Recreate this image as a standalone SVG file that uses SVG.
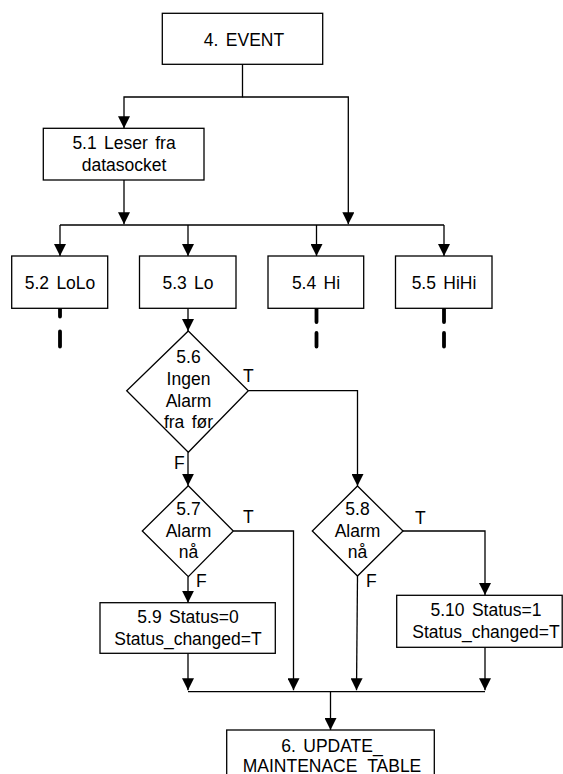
<svg xmlns="http://www.w3.org/2000/svg" width="563" height="774" viewBox="0 0 563 774">
  <style>
    .box { fill: #ffffff; stroke: #000000; stroke-width: 1.3; }
    .lbl { font-family: "Liberation Sans", Arial, sans-serif; font-size: 17.5px; fill: #000000; text-anchor: middle; word-spacing: 2.5px; }
    .tag { font-family: "Liberation Sans", Arial, sans-serif; font-size: 17.5px; fill: #000000; }
    .wire { fill: none; stroke: #000000; stroke-width: 1.3; }
    .stub { fill: none; stroke: #000000; stroke-width: 3.8; stroke-linecap: round; }
  </style>
  <defs>
    <marker id="arrow" viewBox="0 0 12 12" refX="12" refY="6" markerWidth="12" markerHeight="12" markerUnits="userSpaceOnUse" orient="auto">
      <path d="M0,0 L12,6 L0,12 z" fill="#000000"/>
    </marker>
  </defs>
  <rect width="563" height="774" fill="#ffffff"/>

  <!-- connectors -->
  <g id="connectors">
    <path class="wire" d="M242.5,64 V97 H124 V128.3" marker-end="url(#arrow)"/>
    <path class="wire" d="M242.5,97 H348.3 V224.3" marker-end="url(#arrow)"/>
    <path class="wire" d="M124,180 V224.3" marker-end="url(#arrow)"/>
    <path class="wire" d="M60,225 H444"/>
    <path class="wire" d="M60,225 V256" marker-end="url(#arrow)"/>
    <path class="wire" d="M188,225 V256" marker-end="url(#arrow)"/>
    <path class="wire" d="M316.5,225 V256" marker-end="url(#arrow)"/>
    <path class="wire" d="M444,225 V256" marker-end="url(#arrow)"/>
    <path class="wire" d="M188,308.3 V331" marker-end="url(#arrow)"/>
    <path class="wire" d="M188,452.3 V485.7" marker-end="url(#arrow)"/>
    <path class="wire" d="M248.3,390.7 H357.5 V486" marker-end="url(#arrow)"/>
    <path class="wire" d="M233.3,531 H293.5 V690.3" marker-end="url(#arrow)"/>
    <path class="wire" d="M188,576.7 V602.7" marker-end="url(#arrow)"/>
    <path class="wire" d="M403,531 H485 V595" marker-end="url(#arrow)"/>
    <path class="wire" d="M357.5,576 L356.5,690.3" marker-end="url(#arrow)"/>
    <path class="wire" d="M188,653.3 V690.3" marker-end="url(#arrow)"/>
    <path class="wire" d="M485,647.3 V690.3" marker-end="url(#arrow)"/>
    <path class="wire" d="M188,691.7 H485"/>
    <path class="wire" d="M330.5,691.7 V730" marker-end="url(#arrow)"/>
    <!-- broken continuations under the other alarm levels -->
    <path class="stub" d="M60,308.5 V316.5 M60,331.5 V346.5"/>
    <path class="stub" d="M316.5,308.5 V322 M316.5,333 V346.5"/>
    <path class="stub" d="M444,308.5 V322 M444,333 V346.5"/>
    <!-- branch tags -->
    <text class="tag" x="243" y="381.5">T</text>
    <text class="tag" x="174" y="468.5">F</text>
    <text class="tag" x="243" y="523">T</text>
    <text class="tag" x="196" y="587">F</text>
    <text class="tag" x="415" y="523.5">T</text>
    <text class="tag" x="366" y="587">F</text>
  </g>

  <g id="n4-event">
    <rect class="box" x="162.3" y="13.3" width="160.4" height="51"/>
    <text class="lbl" x="244" y="45.7">4. EVENT</text>
  </g>

  <g id="n5-1">
    <rect class="box" x="43.3" y="128.3" width="160.7" height="51.7"/>
    <text class="lbl" x="124" y="149">5.1 Leser fra</text>
    <text class="lbl" x="124" y="171">datasocket</text>
  </g>

  <g id="n5-2">
    <rect class="box" x="11.7" y="256" width="96" height="52.3"/>
    <text class="lbl" x="60" y="289.3">5.2 LoLo</text>
  </g>

  <g id="n5-3">
    <rect class="box" x="139.5" y="256" width="96.5" height="52.3"/>
    <text class="lbl" x="188" y="289.3">5.3 Lo</text>
  </g>

  <g id="n5-4">
    <rect class="box" x="268" y="256" width="95.7" height="52.3"/>
    <text class="lbl" x="316" y="289.3">5.4 Hi</text>
  </g>

  <g id="n5-5">
    <rect class="box" x="395.5" y="256" width="96.5" height="52.3"/>
    <text class="lbl" x="444" y="289.3">5.5 HiHi</text>
  </g>

  <g id="n5-6">
    <polygon class="box" points="188.3,331 248.3,390.7 188.3,452.3 126.7,390.7"/>
    <text class="lbl" x="188.5" y="363.3">5.6</text>
    <text class="lbl" x="188.5" y="385">Ingen</text>
    <text class="lbl" x="188.5" y="406.7">Alarm</text>
    <text class="lbl" x="188.5" y="428.3">fra før</text>
  </g>

  <g id="n5-7">
    <polygon class="box" points="188.3,485.7 233.3,531 188.3,576.7 142.3,531"/>
    <text class="lbl" x="188.5" y="515">5.7</text>
    <text class="lbl" x="188.5" y="536.7">Alarm</text>
    <text class="lbl" x="188.5" y="558.3">nå</text>
  </g>

  <g id="n5-8">
    <polygon class="box" points="357.5,486 403,531 357.5,576 312.3,531"/>
    <text class="lbl" x="357.5" y="515">5.8</text>
    <text class="lbl" x="357.5" y="536.7">Alarm</text>
    <text class="lbl" x="357.5" y="558.3">nå</text>
  </g>

  <g id="n5-9">
    <rect class="box" x="100" y="602.7" width="175.3" height="50.6"/>
    <text class="lbl" x="188" y="623.3">5.9 Status=0</text>
    <text class="lbl" x="188" y="645">Status_changed=T</text>
  </g>

  <g id="n5-10">
    <rect class="box" x="396.7" y="595.3" width="165.5" height="52"/>
    <text class="lbl" x="486" y="616">5.10 Status=1</text>
    <text class="lbl" x="486" y="637.7">Status_changed=T</text>
  </g>

  <g id="n6-update">
    <rect class="box" x="226.7" y="730" width="207.6" height="60"/>
    <text class="lbl" x="332" y="751.7">6. UPDATE_</text>
    <text class="lbl" x="332" y="772">MAINTENACE_TABLE</text>
  </g>
</svg>
